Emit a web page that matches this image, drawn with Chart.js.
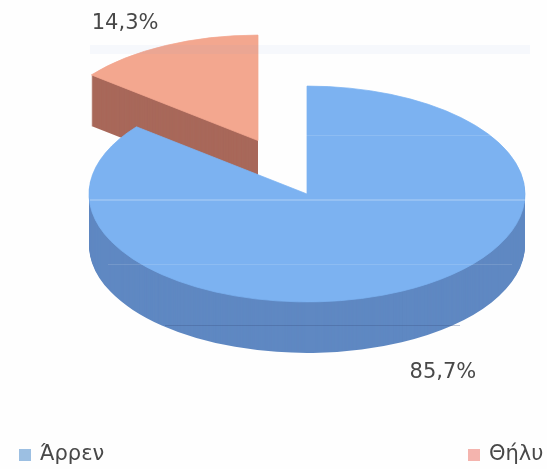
<!DOCTYPE html>
<html>
<head>
<meta charset="utf-8">
<style>
html,body{margin:0;padding:0;background:#fefefe;}
#wrap{width:547px;height:469px;overflow:hidden;}
canvas{display:block;filter:blur(0.7px);}
</style>
<script src="https://cdn.jsdelivr.net/npm/chart.js@4"></script>
</head>
<body>
<div id="wrap"><canvas id="c" width="547" height="469"></canvas></div>
<script>
const categories = ['Άρρεν', 'Θήλυ'];
const values = [85.7, 14.3];
const valueLabels = ['85,7%', '14,3%'];
const topColors = ['#7cb2f1', '#f3a78f'];
const sideColors = ['#5f88c2', '#a8685a'];
const swatchColors = ['#9cbfe2', '#f4b4ae'];

const TILT = 0.495, DEPTH = 51, RADIUS = 218;
const explodeX = [0, -49];
const explodeY = [0, -108];
const radiusTrim = [0, 5];
const labelRadius = [313, 306];
const labelNudge = [39, 19];
const legendX = [19, 468];
const FONT = '"DejaVu Sans", sans-serif';

const pie3d = {
  id: 'pie3d',
  beforeDatasetsDraw(chart) {
    const ctx = chart.ctx;
    const arcs = chart.getDatasetMeta(0).data;
    // exploded slice sits behind: paint in reverse order
    for (let i = arcs.length - 1; i >= 0; i--) {
      const arc = arcs[i];
      const base = arc.options;
      const r = arc.outerRadius;
      arc.outerRadius = r - radiusTrim[i];
      ctx.save();
      ctx.translate(arc.x, arc.y);
      ctx.scale(1, TILT);
      ctx.translate(-arc.x, -arc.y);
      ctx.translate(explodeX[i], explodeY[i]);
      arc.options = Object.assign({}, base, {backgroundColor: sideColors[i], borderWidth: 0});
      for (let d = DEPTH; d > 0; d--) {
        ctx.save();
        ctx.translate(0, d / TILT);
        arc.draw(ctx);
        ctx.restore();
      }
      arc.options = base;
      arc.draw(ctx);
      ctx.restore();
      arc.outerRadius = r;
    }
    return false;
  },
  afterDraw(chart) {
    const ctx = chart.ctx;
    const arcs = chart.getDatasetMeta(0).data;

    // faint scan artefacts of the source picture
    ctx.save();
    ctx.fillStyle = 'rgba(120,160,215,0.06)';
    ctx.fillRect(90, 45, 440, 9);
    ctx.fillStyle = 'rgba(255,255,255,0.2)';
    ctx.fillRect(90, 199, 437, 2);
    ctx.fillStyle = 'rgba(255,255,255,0.13)';
    ctx.fillRect(108, 264, 404, 1);
    ctx.fillRect(306, 135, 190, 1);
    ctx.fillStyle = 'rgba(60,80,130,0.32)';
    ctx.fillRect(165, 325, 295, 1);
    ctx.restore();

    // value labels
    ctx.save();
    ctx.font = '21px ' + FONT;
    ctx.fillStyle = '#484848';
    ctx.textAlign = 'center';
    ctx.textBaseline = 'middle';
    arcs.forEach((arc, i) => {
      const mid = (arc.startAngle + arc.endAngle) / 2;
      const x = arc.x + explodeX[i] + Math.cos(mid) * labelRadius[i];
      const y = arc.y + (explodeY[i] + Math.sin(mid) * labelRadius[i]) * TILT + labelNudge[i];
      ctx.fillText(valueLabels[i], x, y);
    });
    ctx.restore();

    // legend
    ctx.save();
    ctx.font = '21px ' + FONT;
    ctx.textAlign = 'left';
    ctx.textBaseline = 'middle';
    categories.forEach((name, i) => {
      ctx.fillStyle = swatchColors[i];
      ctx.fillRect(legendX[i], 449, 12, 12);
      ctx.fillStyle = '#484848';
      ctx.fillText(name, legendX[i] + 21, 455);
    });
    ctx.restore();
  }
};

new Chart(document.getElementById('c'), {
  type: 'pie',
  data: {
    labels: categories,
    datasets: [{
      data: values,
      backgroundColor: topColors,
      borderColor: topColors,
      borderWidth: 1,
      radius: RADIUS
    }]
  },
  options: {
    responsive: false,
    animation: false,
    layout: {padding: {left: 67, right: 0, top: 0, bottom: 81}},
    plugins: {legend: {display: false}, tooltip: {enabled: false}}
  },
  plugins: [pie3d]
});
</script>
</body>
</html>
